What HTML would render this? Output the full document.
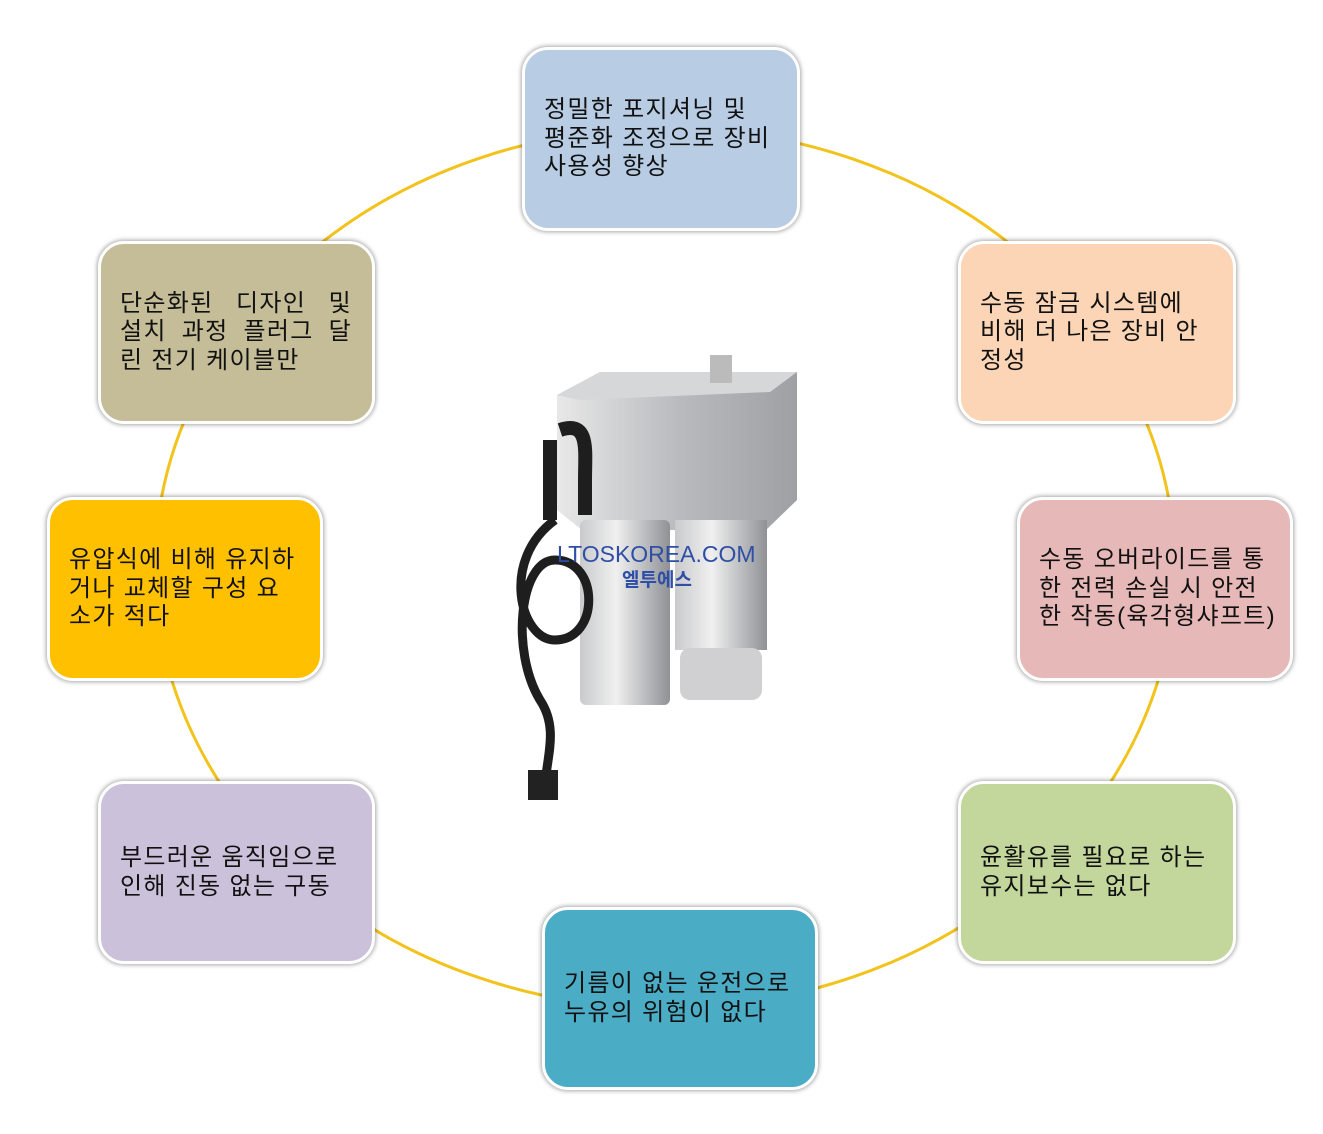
<!DOCTYPE html>
<html><head><meta charset="utf-8"><style>
body{margin:0;width:1323px;height:1134px;background:#fff;position:relative;overflow:hidden;font-family:"Liberation Sans","Noto Sans CJK KR",sans-serif;}
.b{position:absolute;box-sizing:border-box;border:3px solid #fff;border-radius:26px;box-shadow:0 0 4px 1px rgba(0,0,0,.35);display:flex;align-items:center;padding:0 19px;font-size:24px;line-height:28.5px;color:#111;white-space:nowrap;letter-spacing:1.3px;}
.b div{width:100%}
.j{display:block;text-align:justify;text-align-last:justify;width:232px}
</style></head><body>
<svg width="1323" height="1134" style="position:absolute;left:0;top:0">
<ellipse cx="665" cy="568" rx="510" ry="440" fill="none" stroke="#f2c31c" stroke-width="3"/>
<defs><linearGradient id="g" x1="0" x2="1"><stop offset="0" stop-color="#e8e8e8"/><stop offset=".5" stop-color="#b9bbbe"/><stop offset="1" stop-color="#9ea0a4"/></linearGradient>
<linearGradient id="c" x1="0" x2="1"><stop offset="0" stop-color="#c9cacc"/><stop offset=".4" stop-color="#f0f0f0"/><stop offset="1" stop-color="#8f9195"/></linearGradient></defs>
<path d="M557 395 L600 372 L797 372 L797 500 L766 530 L582 530 L557 510Z" fill="url(#g)"/>
<path d="M557 395 L600 372 L797 372 L770 392 L580 400Z" fill="#d6d7d9"/>
<rect x="710" y="355" width="22" height="28" fill="#bbb"/>
<rect x="580" y="520" width="90" height="185" rx="6" fill="url(#c)"/>
<rect x="675" y="520" width="92" height="130" fill="url(#c)"/>
<rect x="680" y="648" width="82" height="52" rx="10" fill="#d0d0d2"/>
<path d="M550 440 L550 520 M560 430 C590 420 585 450 585 480 L585 515" stroke="#1e1e1e" stroke-width="14" fill="none"/>
<path d="M555 520 C500 560 520 640 555 640 C600 640 600 560 555 560 C520 560 510 650 540 700 C560 730 545 760 545 790" stroke="#1e1e1e" stroke-width="9" fill="none"/>
<rect x="528" y="770" width="30" height="30" fill="#222"/>
<text x="557" y="562" font-size="23" fill="#2f4fa6" font-family="Liberation Sans,sans-serif">LTOSKOREA.COM</text>
<text x="622" y="586" font-size="19" font-weight="bold" fill="#2f4fa6" font-family="Liberation Sans,Noto Sans CJK KR,sans-serif">엘투에스</text>
</svg>
<div class="b" style="left:522px;top:47px;width:278px;height:184px;background:#b8cce4"><div>정밀한 포지셔닝 및<br>평준화 조정으로 장비<br>사용성 향상</div></div>
<div class="b" style="left:958px;top:241px;width:278px;height:183px;background:#fbd5b5"><div>수동 잠금 시스템에<br>비해 더 나은 장비 안<br>정성</div></div>
<div class="b" style="left:1017px;top:497px;width:276px;height:184px;background:#e6b9b8"><div>수동 오버라이드를 통<br>한 전력 손실 시 안전<br>한 작동(육각형샤프트)</div></div>
<div class="b" style="left:958px;top:781px;width:278px;height:183px;background:#c3d69b"><div>윤활유를 필요로 하는<br>유지보수는 없다</div></div>
<div class="b" style="left:542px;top:907px;width:276px;height:183px;background:#4bacc6"><div>기름이 없는 운전으로<br>누유의 위험이 없다</div></div>
<div class="b" style="left:98px;top:781px;width:277px;height:183px;background:#ccc1da"><div>부드러운 움직임으로<br>인해 진동 없는 구동</div></div>
<div class="b" style="left:47px;top:497px;width:276px;height:184px;background:#ffc000"><div>유압식에 비해 유지하<br>거나 교체할 구성 요<br>소가 적다</div></div>
<div class="b" style="left:98px;top:241px;width:277px;height:183px;background:#c4bd97"><div><span class="j">단순화된 디자인 및</span><span class="j">설치 과정 플러그 달</span>린 전기 케이블만</div></div>
</body></html>
